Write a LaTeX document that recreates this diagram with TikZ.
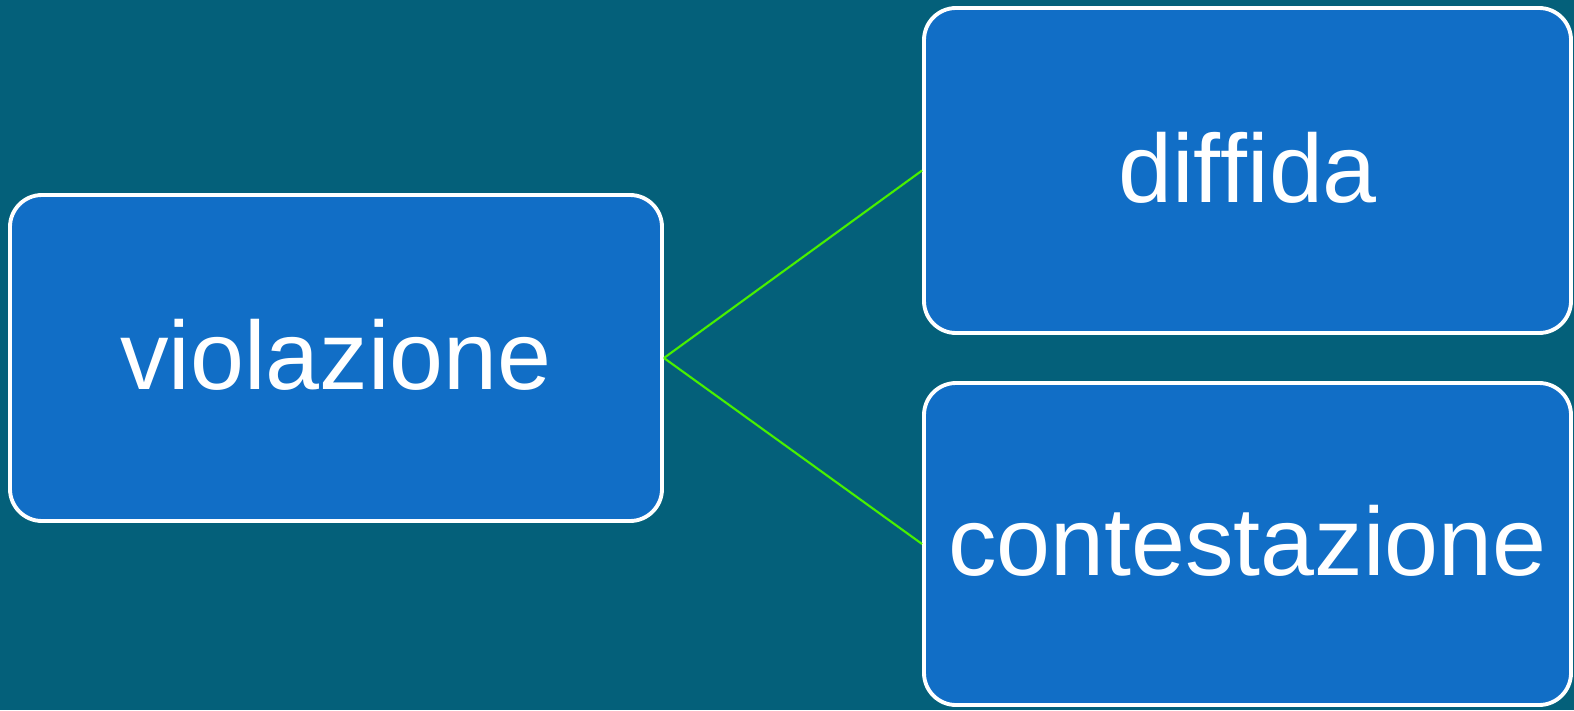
\documentclass[tikz,border=0pt]{standalone}
\usepackage{fontspec}
\setmainfont[RawFeature=-liga]{Liberation Sans}
\definecolor{bgteal}{RGB}{4,96,122}
\definecolor{boxblue}{RGB}{17,110,198}
\definecolor{linkgreen}{RGB}{72,240,0}
\begin{document}
\begin{tikzpicture}
	[every node/.style={rectangle,draw=white,line width=1.1pt,fill=boxblue,
		rounded corners=3.2mm,text=white,inner sep=2pt,
		text height=18.2pt,text depth=0pt,
		font=\fontsize{27.6pt}{33pt}\selectfont},
	link/.style={draw=linkgreen,line width=0.6pt}]
	\fill [bgteal] (0,0) rectangle (15.74,-7.10);
	\useasboundingbox (0,0) rectangle (15.74,-7.10);
	\node (violazione) [minimum width=6.52cm,minimum height=3.26cm] at (3.36,-3.58) {violazione};
	\node (diffida) [minimum width=6.47cm,minimum height=3.25cm] at (12.475,-1.705) {dif\kern0ptf\kern0ptida};
	\node (contestazione) [minimum width=6.47cm,minimum height=3.22cm] at (12.475,-5.44) {contestazione};
	\draw [link] (violazione.east) -- (diffida.west);
	\draw [link] (violazione.east) -- (contestazione.west);
\end{tikzpicture}
\end{document}
